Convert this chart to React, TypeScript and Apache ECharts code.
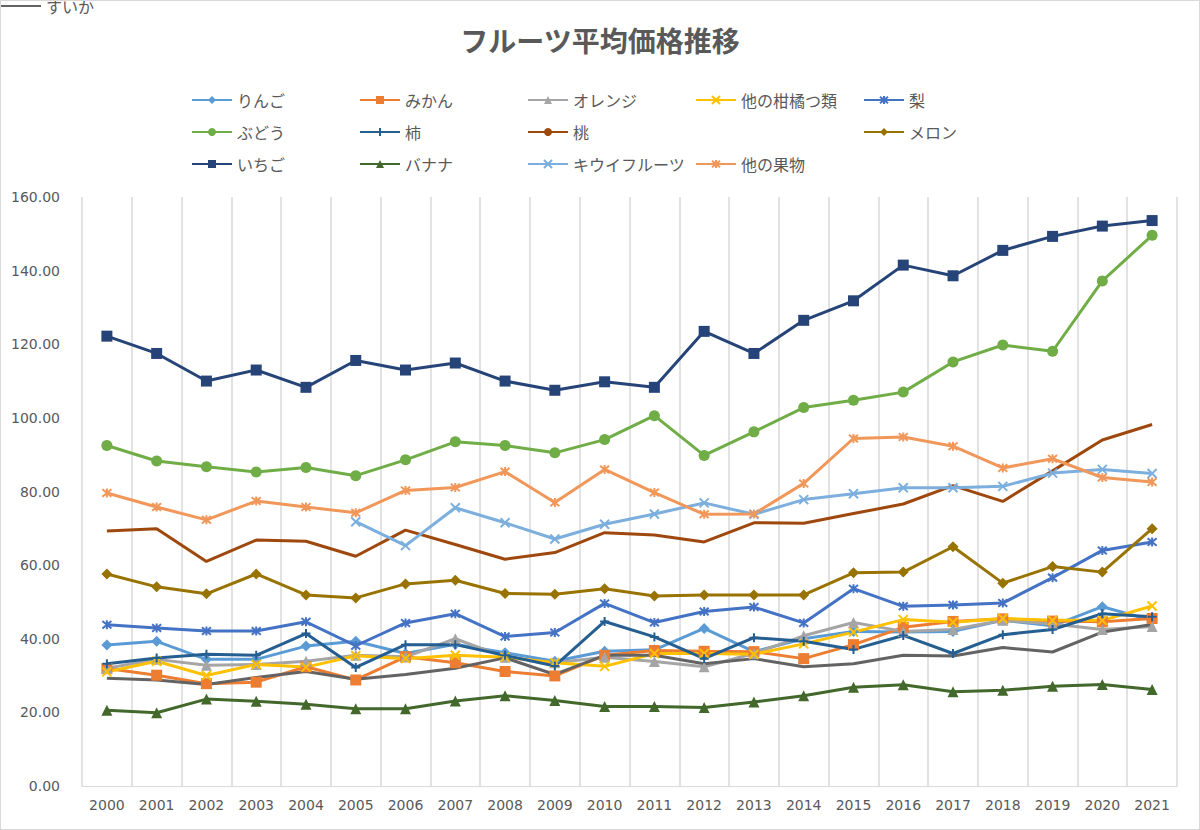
import React, { useEffect, useRef } from "react";
import * as echarts from "echarts";

const years = ["2000","2001","2002","2003","2004","2005","2006","2007","2008","2009","2010","2011","2012","2013","2014","2015","2016","2017","2018","2019","2020","2021"];
const ringo = [38.3,39.3,34.4,34.4,38,39.3,36,38.5,36.2,33.9,36.6,37,42.8,36.5,40,42,41.8,42,45,43.5,48.7,45];
const mikan = [31.9,30.1,27.8,28.2,32.4,28.8,35.1,33.5,31.1,29.9,35.5,36.8,36.6,36.5,34.6,38.4,43.1,44.7,45.4,44.8,44.6,45.5];
const orange = [32,34.4,32.8,33,33.9,35.5,35.1,40,35,33.5,35,33.8,32.4,36,40.8,44.4,42,42.5,45,44,42.5,43.3];
const kankitsu = [31,33.9,30,33,32.3,35.4,34.6,35.5,35,33.5,32.5,36,36,35.8,38.6,41.8,45.2,44.5,45.5,45,45,48.9];
const nashi = [43.8,42.9,42.1,42.1,44.6,38.1,44.3,46.8,40.6,41.7,49.6,44.4,47.4,48.6,44.3,53.6,48.8,49.2,49.7,56.6,64,66.3];
const budou = [92.5,88.3,86.7,85.3,86.5,84.3,88.6,93.5,92.5,90.5,94.1,100.6,89.8,96.2,102.8,104.8,107,115.2,119.8,118.1,137.2,149.6];
const kaki = [33.2,34.8,35.8,35.5,41.4,32.2,38.4,38.4,35.5,32.6,44.7,40.5,34.6,40.3,39.3,37.1,40.9,36,41.1,42.5,46.8,46];
const momo = [69.3,69.9,61,66.8,66.5,62.4,69.5,65.6,61.6,63.4,68.8,68.2,66.3,71.5,71.4,74,76.6,81.6,77.3,85.6,94,98.2];
const suika = [29.3,28.8,27.6,29.5,31.1,29,30.3,32,34.8,30.3,35.5,35.5,33.2,34.6,32.4,33.2,35.5,35.3,37.6,36.4,41.8,43.9];
const melon = [57.6,54.1,52.2,57.6,51.9,51.1,54.9,55.9,52.3,52.1,53.6,51.6,51.9,51.9,51.9,57.9,58.1,65,55.1,59.6,58.1,69.9];
const ichigo = [122.2,117.5,110,113,108.3,115.6,113,114.9,110,107.5,109.8,108.3,123.5,117.5,126.5,131.8,141.5,138.6,145.5,149.3,152.1,153.6];
const banana = [20.6,19.9,23.6,23,22.2,21,21,23.1,24.5,23.2,21.6,21.6,21.3,22.8,24.5,26.8,27.5,25.6,26,27.1,27.6,26.2];
const kiwi = [null,null,null,null,null,71.8,65.3,75.6,71.5,67.1,71.1,73.9,76.9,73.8,77.8,79.4,81,81,81.4,85,86,84.9];
const other = [79.6,75.8,72.3,77.4,75.8,74.2,80.3,81.1,85.4,77,86,79.7,73.8,73.9,82.2,94.4,94.8,92.3,86.4,88.9,83.8,82.6];

const X = "path://M0,0L10,10M10,0L0,10";
const STAR = "path://M0,0L10,10M10,0L0,10M5,-1L5,11";
const PLUS = "path://M5,0L5,10M0,5L10,5";
const DASH = "path://M0,5L10,5";

const seriesDefs: [string, (number | null)[], string, string][] = [
  ["りんご", ringo, "#5B9BD5", "diamond"],
  ["みかん", mikan, "#ED7D31", "rect"],
  ["オレンジ", orange, "#A5A5A5", "triangle"],
  ["他の柑橘つ類", kankitsu, "#FFC000", X],
  ["梨", nashi, "#4472C4", STAR],
  ["ぶどう", budou, "#70AD47", "circle"],
  ["柿", kaki, "#255E91", PLUS],
  ["桃", momo, "#9E480E", "none"],
  ["すいか", suika, "#636363", DASH],
  ["メロン", melon, "#997300", "diamond"],
  ["いちご", ichigo, "#264478", "rect"],
  ["バナナ", banana, "#43682B", "triangle"],
  ["キウイフルーツ", kiwi, "#7CAFDD", X],
  ["他の果物", other, "#F1975A", STAR],
];

export default function App() {
  const ref = useRef<HTMLDivElement>(null);
  useEffect(() => {
    document.body.style.margin = "0";
    const chart = echarts.init(ref.current!, null, { renderer: "svg" });
    const font = "'Noto Sans CJK JP', 'Noto Sans', sans-serif";
    const legends = seriesDefs.map((d, i) => ({
      left: 185 + (i % 5) * 168,
      top: 86 + Math.floor(i / 5) * 32,
      itemWidth: 40,
      itemHeight: 10,
      data: [d[0]],
      textStyle: { fontSize: 16, color: "#595959", fontFamily: font },
    }));
    chart.setOption({
      animation: false,
      textStyle: { fontFamily: font },
      title: {
        text: "フルーツ平均価格推移",
        left: "center",
        top: 20,
        textStyle: { fontSize: 28, fontWeight: "bold", color: "#595959", fontFamily: font },
      },
      legend: legends,
      grid: { left: 81, right: 22, top: 196, bottom: 43 },
      xAxis: {
        type: "category",
        data: years,
        boundaryGap: true,
        axisLine: { lineStyle: { color: "#D9D9D9" } },
        axisTick: { show: false },
        splitLine: { show: true, lineStyle: { color: "#D9D9D9", width: 1.5 } },
        axisLabel: { color: "#595959", fontSize: 14, fontFamily: "'DejaVu Sans', sans-serif", margin: 12 },
      },
      yAxis: {
        type: "value",
        min: 0,
        max: 160,
        interval: 20,
        axisLine: { show: false },
        axisTick: { show: false },
        splitLine: { show: false },
        axisLabel: { color: "#595959", fontSize: 14, formatter: (v: number) => v.toFixed(2), fontFamily: "'DejaVu Sans', sans-serif", margin: 22 },
      },
      series: seriesDefs.map(([name, data, color, sym]) => ({
        name,
        type: "line",
        data,
        symbol: sym,
        symbolSize: sym.startsWith("path") ? 9 : 11,
        showSymbol: sym !== "none",
        connectNulls: false,
        lineStyle: { color, width: 3 },
        itemStyle: { color, borderColor: color, borderWidth: sym.startsWith("path") ? 2 : 0 },
      })),
    });
    return () => chart.dispose();
  }, []);
  return (
    <div style={{ width: 1200, height: 830, border: "1px solid #D9D9D9", boxSizing: "border-box" }}>
      <div ref={ref} style={{ width: 1198, height: 828 }} />
    </div>
  );
}
